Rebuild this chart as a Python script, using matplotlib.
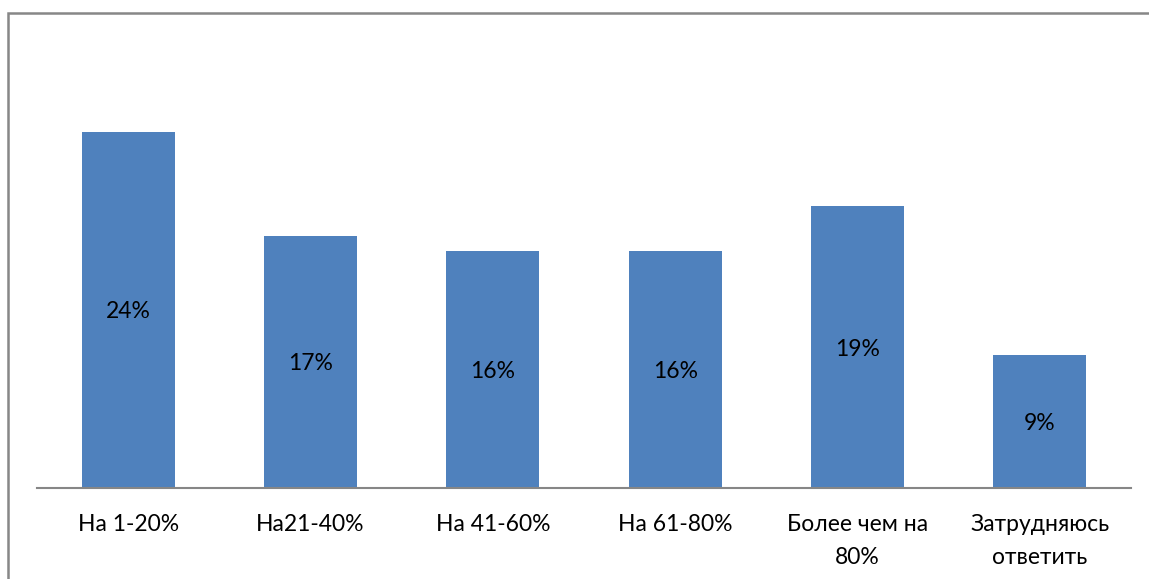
import matplotlib.pyplot as plt
from matplotlib.patches import Rectangle

categories = ["На 1-20%", "На21-40%", "На 41-60%", "На 61-80%", "Более чем на\n80%", "Затрудняюсь\nответить"]
values = [24, 17, 16, 16, 19, 9]

plt.rcParams['font.family'] = ['Lato', 'DejaVu Sans']

W, H = 1149, 579
fig = plt.figure(figsize=(W / 100, H / 100), dpi=100)
ax = fig.add_axes([37 / W, 1 - 488 / H, 1094 / W, 445 / H])

x = range(len(values))
bars = ax.bar(x, values, width=0.51, color="#4F81BD", zorder=2)
for b, v in zip(bars, values):
    ax.text(b.get_x() + b.get_width() / 2, v / 2, f"{v}%",
            ha="center", va="center_baseline", fontsize=16.5, color="black")

ax.set_xlim(-0.5, len(values) - 0.5)
ax.set_ylim(0, 30)
ax.set_yticks([])
ax.set_xticks(list(x))
ax.set_xticklabels(categories, fontsize=16.5, linespacing=1.7)
ax.tick_params(axis="x", length=0, pad=19)
for s in ["top", "right", "left"]:
    ax.spines[s].set_visible(False)
ax.spines["bottom"].set_color("#868686")
ax.spines["bottom"].set_linewidth(1.5)

# outer frame of the chart area
fig.patches.append(Rectangle((8 / W, -0.2), 1.5, 1.2 - 13 / H, transform=fig.transFigure,
                             fill=False, edgecolor="#878787", linewidth=1.8))

fig.savefig("out.png", dpi=100)
